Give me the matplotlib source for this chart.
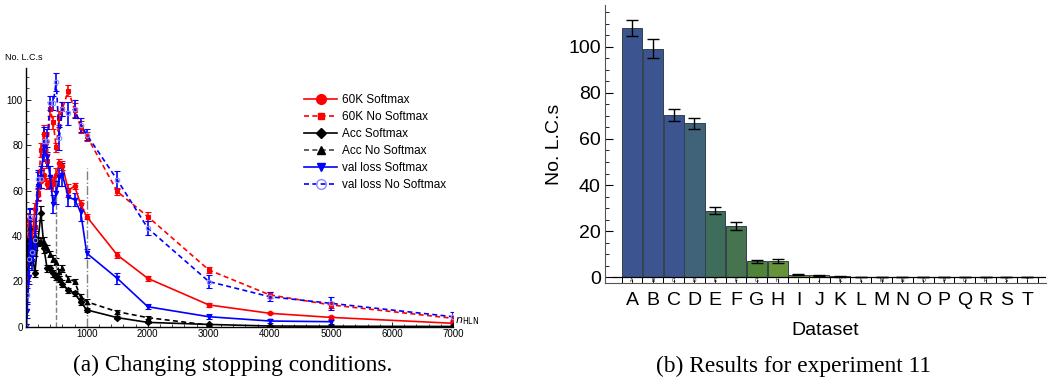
import matplotlib
matplotlib.use('Agg')
import matplotlib.pyplot as plt
from matplotlib.lines import Line2D
from matplotlib.ticker import MultipleLocator

plt.rcParams['font.family'] = ['Liberation Sans', 'DejaVu Sans']

# hidden layer sizes used for the stopping-condition runs
n_hln = [10, 25, 50, 75, 100, 150, 200, 250, 300, 350, 400, 450, 500, 550,
         600, 700, 800, 900, 1000, 1500, 2000, 3000, 4000, 5000, 7000]

sm60k = [16, 22, 45, 33, 37, 52, 58, 64, 67, 63, 64, 63, 67, 72,
         71, 60, 62, 54, 48.5, 31.6, 21.3, 9.6, 5.9, 4.1, 1.5]
sm60k_err = [2, 2, 2.5, 2, 2, 2.5, 2.5, 3, 3, 2.5, 2.5, 3, 3, 2,
             2, 3, 1.5, 2, 1.2, 1.3, 1.0, 0.8, 0.5, 0.6, 0.5]

nosm60k = [20, 30, 47, 36, 38, 44, 59, 78, 85, 73, 96, 90, 79, 92,
           96, 104, 95.6, 88, 84, 59.6, 48.5, 25, 14, 9.6, 3.7]
nosm60k_err = [2, 2, 2.5, 2, 2, 2.5, 3, 3, 4, 3, 3, 3, 2, 3,
               3, 2.5, 3, 2.5, 2, 1.5, 2, 1.5, 1.2, 1.5, 0.8]

acc_sm = [30, 35, 31, 29, 35, 23.5, 37.5, 50, 34.5, 25.7, 25.7, 23.5, 22, 21,
          19, 16, 14.7, 11, 7.4, 4, 1.9, 1, 0.3, 0.2, 0.1]
acc_sm_err = [2, 2, 2, 2, 2, 1.5, 2, 3, 2, 1.5, 1.5, 1.5, 1.5, 1.5,
              1.5, 1.2, 1.2, 1.5, 0.8, 0.6, 0.4, 0.3, 0.2, 0.2, 0.1]

acc_nosm = [26, 38, 38, 44, 37, 40, 37.5, 37.5, 37.5, 34.5, 32, 30, 28.7, 24,
            25.7, 21, 20, 13, 11, 6.6, 4, 0.7]
acc_nosm_err = [2, 2, 2, 2.5, 2, 2, 1.5, 1.5, 2, 1.5, 1.5, 1.5, 1.5, 1.5,
                1.5, 1.2, 1.2, 1.5, 1, 0.8, 0.6, 0.3]

vl_sm = [0, 7, 22, 47, 29, 35, 62, 66, 79, 75, 66, 54, 59, 66,
         67, 57, 56, 50.7, 32.4, 21.3, 8.8, 4.4, 2.5, 2.2]
vl_sm_err = [1, 3, 3, 5, 4, 4, 6, 5, 6, 4, 5, 4, 5, 4,
             5, 4, 3, 4, 2, 2.5, 1, 1.2, 0.8, 0.8]

vl_nosm = [0, 14, 30, 48.5, 33, 38, 65, 65, 82, 82, 98.5, 98.5, 108, 83,
           96, 94, 96, 89, 84.6, 64.7, 43.4, 19.9, 13.2, 10.3, 4.4]
vl_nosm_err = [1, 3, 4, 4, 4, 4, 4, 4, 6, 5, 3, 3, 4, 5,
               3, 5, 4, 3, 2.5, 4, 3, 3, 2, 3, 2]

# experiment 11 per-dataset counts
datasets = list('ABCDEFGHIJKLMNOPQRST')
counts = [108.3, 99.2, 70.2, 66.8, 28.9, 22.1, 6.9, 6.9, 1.2, 0.9,
          0.4, 0.15, 0.1, 0.05, 0.03, 0.02, 0.02, 0.01, 0.01, 0.01]
counts_err = [3.5, 4.2, 2.6, 2.3, 1.5, 1.7, 0.8, 0.9, 0.3, 0.3,
              0.2, 0.1, 0.05, 0.05, 0.03, 0.02, 0.02, 0.01, 0.01, 0.01]
bar_colors = ['#3c5590', '#3c5590', '#3c5590', '#41637a', '#3e6d5b', '#45744f',
              '#4f8439', '#66933a', '#7d9c37', '#8fa035', '#a6a333', '#bfa532',
              '#d4a030', '#e0902d', '#e57b2a', '#e56427', '#e04d25', '#d83a23',
              '#cf2c22', '#c52222']


def plot_stopping(ax):
    series = [
        (n_hln, sm60k, sm60k_err, 'red', '-', 'o', 'red', 'red'),
        (n_hln, nosm60k, nosm60k_err, 'red', (0, (3, 2)), 's', 'red', 'red'),
        (n_hln, acc_sm, acc_sm_err, 'black', '-', 'D', 'black', 'black'),
        (n_hln[:len(acc_nosm)], acc_nosm, acc_nosm_err, 'black', (0, (3, 2)), '^', 'black', 'black'),
        (n_hln[:len(vl_sm)], vl_sm, vl_sm_err, 'blue', '-', 'v', 'blue', 'blue'),
        (n_hln, vl_nosm, vl_nosm_err, 'blue', (0, (3, 2)), 'o', 'none', '#8c8cff'),
    ]
    for x, y, e, c, ls, m, mfc, mec in series:
        ax.errorbar(x, y, yerr=e, color=c, ls=ls, lw=1.2, marker=m, ms=3.2,
                    mfc=mfc, mec=mec, mew=0.8, elinewidth=1.2, capsize=2, capthick=1.2)

    ax.plot([500, 500], [0, 70], color='gray', ls='--', lw=1)
    ax.plot([1000, 1000], [0, 70], color='gray', ls='-.', lw=1)

    ax.set_xlim(0, 7000)
    ax.set_ylim(0, 114)
    ax.set_xticks(range(1000, 7001, 1000))
    ax.set_yticks(range(0, 101, 20))
    ax.xaxis.set_minor_locator(MultipleLocator(200))
    ax.yaxis.set_minor_locator(MultipleLocator(5))
    ax.tick_params(direction='in', labelsize=7, length=3.5, width=0.6, pad=2)
    ax.tick_params(which='minor', direction='in', length=2, width=0.5)
    for side in ['top', 'right']:
        ax.spines[side].set_visible(False)
    for side in ['left', 'bottom']:
        ax.spines[side].set_linewidth(1)

    ax.text(7030, 0, r'$n_{\mathrm{HLN}}$', fontsize=8, va='bottom', ha='left', clip_on=False)

    handles = [
        Line2D([], [], color='red', ls='-', lw=1.2, marker='o', ms=7),
        Line2D([], [], color='red', ls=(0, (3, 2)), lw=1.2, marker='s', ms=5),
        Line2D([], [], color='black', ls='-', lw=1.2, marker='D', ms=5),
        Line2D([], [], color='#444444', ls=(0, (3, 2)), lw=1.2, marker='^', mfc='black', mec='black', ms=6),
        Line2D([], [], color='blue', ls='-', lw=1.2, marker='v', ms=6),
        Line2D([], [], color='blue', ls=(0, (3, 2)), lw=1.2, marker='o', ms=7, mfc='none', mec='#8c8cff'),
    ]
    labels = ['60K Softmax', '60K No Softmax', 'Acc Softmax', 'Acc No Softmax',
              'val loss Softmax', 'val loss No Softmax']
    ax.legend(handles, labels, loc='upper left', bbox_to_anchor=(304 / 1054, 1 - 94 / 377),
              bbox_transform=ax.figure.transFigure, frameon=False, fontsize=8.5,
              borderpad=0, borderaxespad=0,
              handlelength=2.8, handletextpad=0.4, labelspacing=0.42)


def plot_experiment(ax):
    pos = list(range(len(datasets)))
    ax.bar(pos, counts, width=0.97, color=bar_colors, edgecolor='#33404d', lw=0.7,
           yerr=counts_err, capsize=4, error_kw=dict(ecolor='black', elinewidth=1, capthick=1))

    ax.set_xlim(-1.3, 19.9)
    ax.set_ylim(-2.47, 118.1)
    ax.axhline(0, xmin=8 / 441, color='black', lw=0.9)
    # small label boxes under the bars
    for i, name in enumerate(datasets):
        ax.plot([i - 0.5, i - 0.5], [-2.47, 0], color='black', lw=0.7)
        ax.text(i, -1.25, name, fontsize=3.5, ha='center', va='center')
    ax.plot([19.5, 19.5], [-2.47, 0], color='black', lw=0.7)

    ax.set_xticks(pos)
    ax.set_xticklabels(datasets)
    ax.set_yticks(range(0, 101, 20))
    ax.yaxis.set_minor_locator(MultipleLocator(5))
    ax.tick_params(axis='x', direction='in', length=3, width=0.6, labelsize=14, pad=6.5)
    ax.tick_params(axis='y', direction='in', length=6, width=0.8, labelsize=14, pad=3)
    ax.tick_params(axis='y', which='minor', direction='in', length=3, width=0.6)
    for side in ['top', 'right']:
        ax.spines[side].set_visible(False)
    ax.spines['left'].set_color('#555555')
    ax.spines['bottom'].set_color('#555555')
    ax.set_ylabel('No. L.C.s', fontsize=14, labelpad=4)
    ax.set_xlabel('Dataset', fontsize=14, labelpad=9)


def main():
    fig = plt.figure(figsize=(10.54, 3.77), dpi=100)
    ax1 = fig.add_axes([25.7 / 1054, 1 - 326.7 / 377, (453 - 25.7) / 1054, (326.7 - 68) / 377])
    ax2 = fig.add_axes([605 / 1054, 1 - 283 / 377, (1046 - 605) / 1054, (283 - 5) / 377])

    plot_stopping(ax1)
    plot_experiment(ax2)

    fig.text(5 / 1054, 1 - 57 / 377, 'No. L.C.s', fontsize=6.5, ha='left', va='center')
    fig.text(233 / 1054, 1 - 365 / 377, '(a) Changing stopping conditions.',
             fontsize=16.8, family='Liberation Serif', ha='center', va='center')
    fig.text(794 / 1054, 1 - 366 / 377, '(b) Results for experiment 11',
             fontsize=16.8, family='Liberation Serif', ha='center', va='center')

    fig.savefig('out.png', dpi=100)


if __name__ == "__main__":
    main()
